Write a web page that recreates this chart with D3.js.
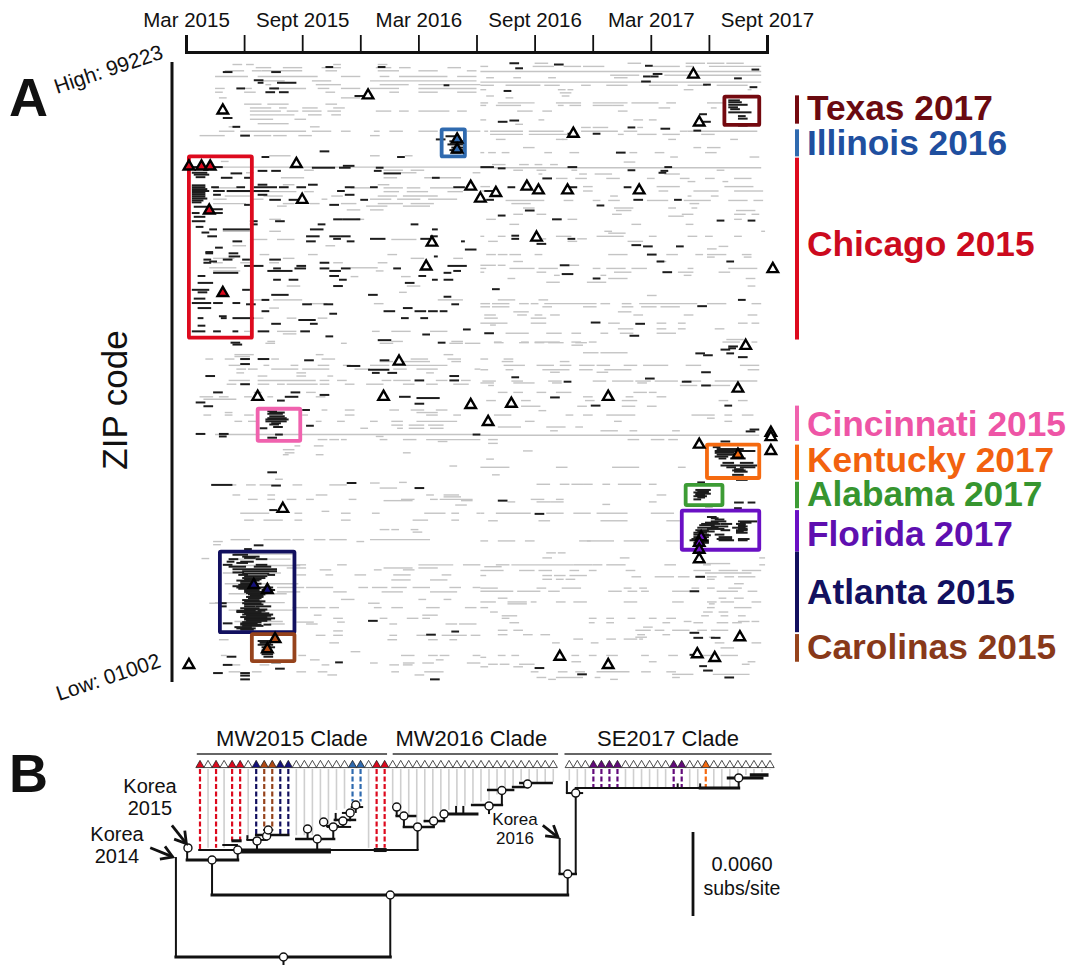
<!DOCTYPE html>
<html><head><meta charset="utf-8"><title>ZIP code and phylogeny</title>
<script src="https://cdn.jsdelivr.net/npm/d3@7"></script>
<style>html,body{margin:0;background:#fff}svg{display:block}text{font-family:"Liberation Sans",Arial,sans-serif;fill:#111}</style>
</head><body><svg id="c" width="1070" height="965"></svg>
<script>
// Panel A: values in months since Mar 2015, ZIP code in thousands. Rows: [zip, start, end, start, end, ...]
const axisMonths=[0,3,6,9,12,15,18,21,24,27,30];
const axisLabels={0:"Mar 2015",6:"Sept 2015",12:"Mar 2016",18:"Sept 2016",24:"Mar 2017",30:"Sept 2017"};

const grayTopLeft=[
[98.8,2.4,2.9,3.1,3.5,7.6,8,9.9,10.4],[98.3,3.6,4.4,5,6,7,8,9.8,10.6,11,11.6,13.5,14.2],[97.8,2,3,3.4,3.9,3.9,6,7.2,7.8,9.9,11,12,13,14.5,15],
[96.9,1.5,3.2,3.7,6.8,8,9,10,10.5,11,13.5,14,15],[96.2,3.9,5.1,6.5,7.5,9.5,15],[95.6,4.1,4.4,6.7,8,10,11.5,12,15.2],[95,1.5,2,3,3.4,4.5,6.2,6.8,7.4,8,9,9.5,11,12,15],
[94.4,1.5,1.9,3,3.6,7.2,7.7,10.5,11,12,13,14,15],[93.5,1.7,2.1,8,9],[92.5,3,3.9,4.2,5.3,7.2,7.8],[91.9,3.3,4.4,4.8,5.2,6,6.8,7.6,8.2],
[91.4,3.3,4.9,5.2,5.8,6,7,7.3,8,9.8,10.6,11,11.5,12,13.6,14,14.5],[90.8,3.3,5.6,6.3,7,7.5,8],[90.1,3.3,4.5,5.6,6.2],[89.4,3.7,5.3],[88.9,2.2,2.6,6.4,6.9],
[88.2,1.7,2.5,2.8,6.2,6.5,7.5,8,8.5,9.7,10,10.5,11.2,12,13,14.5,15.2],[87.5,.7,2,3.5,4.4,4.5,5.2,5.8,6.5,9.5,10],
[84.3,4.3,5.4,9.5,10,11.3,11.7],[83.4,1.8,2.2],[82.5,.3,15.2],[82,6.1,6.6,10.2,11.2,11.6,12.3],[81.6,3.1,3.5,11.1,11.9,14.8,15.2],[80.8,4.9,6.1,10.2,10.9,12.3,14.2],
[79.7,5,5.6,9.9,10.5],[79.2,1.4,2.6,8.5,9.5,10.2,11.2,11.4,12.1,12.6,13.8],[78.6,2.1,5.7,6.1,6.6,10.2,11,11.4,12.5,13.5,14.3],[77.9,2,3.3,4,5,7.5,8.1,9.9,10.9,11.2,13],
[77.4,1.4,2.1,3.3,4,7,7.3,9.5,10.6,10.9,12.1,12.5,14],[76.7,1.4,3.1,5,5.6,6.4,6.9,8,8.8,9.9,11.2,11.6,12.8],[76.3,4.7,5.2,9.3,10.4,11.2,12.6],[75.7,8.3,9,9.5,10.2],
[74.2,4.3,4.9,8.8,9.2],[72.3,1.9,3.3,4.3,4.9],[71,3.3,4.2,4.7,5.6,10.6,11.9],[70,2.4,3.1,7.2,7.7],[68.6,3.8,4.3,6.3,6.8,10.4,10.9],[68,1.4,2.5,5,5.6,11.6,12.3,13.8,14.3],
[67.3,1.4,1.9,2.8,3.3,4.3,4.8,7.6,8.1,9.9,10.4],[66.5,1.2,2.6,8.5,9.9],[66,1.4,2.8,9.8,10.2],[65.1,8.5,8.9,11.1,11.6],[63.6,5.2,5.9,11.4,12.1],[62.6,11,11.4],
[61.4,3.5,4.3,4.5,6,13,14.3],[60.8,6.4,7.3,9.7,10.2],[60.1,4.3,4.8],[58.5,3.3,4,5.2,5.7,6.8,7.3],[56.4,3,3.3,4.7,5.7,9.6,10,10.6,11.6,12.6,13.5],[56,5,5.7],[54.8,4.2,4.6,10.6,11.2,13.7,14.3]
];
const grayTopRight=[
[99,18,18.7,22.8,23.5,25.8,26.8,26.9,27.8,27.9,28.8],[98.5,15.2,15.6,17.9,19,19.5,20.4,20.5,21.6,24.1,25.5,25.8,26.2,27,29.7],[97.7,15.2,29.7],[97.1,21.9,23.4,24.7,26,26.2,29.7],
[96.7,15.5,15.9,16.9,17.3,18.7,19.1,22.1,22.8],[96,15.2,29.7],[95.5,15.2,15.9,16.5,18.3,18.5,19.3,20.4,20.9,21.7,22.8,23.9,25.4,25.9,26.9,27.4,29],[94.8,15.2,15.5,19.2,19.6,19.7,20,25.7,26.2,29,29.2],
[94.3,19.3,19.9],[93.8,15.5,15.9,19.4,19.8],[93.5,16.5,16.9],[92.7,15.2,15.6,16.1,18,19.1,20.4,21,22.8,23,24.4,24.8,25.3,26.9,27.8],[92.3,15.2,15.5,16,17.3,19.2,19.5,19.8,20.4,21,22,22,22.6],
[91.9,24.4,25,27.1,27.4],[91.4,17.1,17.9,18.4,18.9,22.3,22.8],[90,15.2,15.5,18.2,18.5,23.1,23.6,23.9,24.3],[89.3,17,17.4],[88.8,20.4,20.9,21,21.8,23.3,23.6],
[88.2,15.4,15.6,15.7,17.4,17.7,19.5,20.4,22.3,22.6,23.3,25.5,25.9,25.9,29.5],[87.7,15.7,17.4,17.7,19.7,22.3,22.6,23.3,24.3,24.6,25.5,26.6,27.3],[86.9,16,16.5,19.1,19.5,19.4,19.7,24.9,25.3,28.1,28.5],
[85.6,17.4,18,26.2,26.6,26.9,27.6],[84.8,15.2,15.4,15.6,16,16.3,16.7,18.5,18.9,19.8,20.3,22.9,23.3,24.2,24.7,26.8,27.4],[84.1,25,25.4,29.1,29.6],[83.3,22.6,23.2],[82.9,15.8,16.5,17.2,17.7,18,18.4,18.8,19.2],
[82.4,15.2,29.7],[82,16.9,17.4,18.1,18.6,19.9,20.2,27.4,27.8],[81.4,18.2,18.4,20.3,20.7,21.1,22,24.7,25.5],[80.7,19.1,19.7,20.1,20.7,21.7,22.4,23.8,24.2,25.5,26,26.8,27.3,28.3,29.2],[80.2,25.9,26.3,27.7,28],
[79.4,15.2,15.7,20.5,21,24.3,25.5,27.8,29.3],[78.7,15.2,15.7,20.5,21,24.4,24.9,26.2,27.5,28.3,29.8],[77.9,21.9,22.3,25.9,26.1,27.1,27.5],[77.2,16.5,17.4,17.4,18.5,19.5,20,21,21.4,21.8,22.4,23.8,24.9,25.7,27.1,28,29,29.3,29.8],
[76.7,16.8,17.8,26,26.5],[76,17.4,18,22.1,23.1,24.9,25.3,26.1,26.4],[75.6,22.2,23,28.4,29.4],[75,16.9,17.4,18.1,18.6,22,22.5,25.6,26.2,28.3,28.9,29.2,29.6],[74.7,24.9,25.7],[74.2,15.5,16,19.7,20.2,28.3,28.7],
[73.4,16.7,17.2,23,23.5,25.8,26.2],[72.3,21.6,22,29.7,29.9],[72,21.8,22.7],[71.5,15.2,15.4,16.1,16.5,19.1,19.9,21.2,22.6,23.9,24.3,25.9,26.4,26.8,27.2,28.3,28.7],[71.1,18.4,18.6,20.2,20.7],
[70.7,15.6,16.1,18,18.2,19.7,20.2,22.8,23.6],[69.9,27.5,28],[69.5,26.9,27.4],[68.6,15.5,16,16.1,16.6,16.7,17.3,18,18.4,21.8,22.8,24.8,25.4,26.3,26.7,26.9,27.9,28.7,29.2],[68.2,26.9,27.3,28.8,29.2],
[67.5,16.9,17.4,24.3,24.8],[66.9,15.2,16,16.1,16.5,19.8,20.3],[66.4,15.2,15.5,16.7,18,18.2,19.2,21,21.4,21.7,22.7,23,23.8,25.9,26.2,28,29.5],[65.8,15.2,15.4,18.1,18.6,22.1,23,25.4,26.2,27.5,28.1],
[65.3,19,19.3,21.4,21.7,25.7,26.1],[64.8,16.6,17,21.8,22.8,28.9,29.4],[64.2,18.6,19.3,20.7,21.7],[63.6,29,29.4],[62.1,23.8,24.3],[61.4,16.1,17,18.2,18.7],
[60.8,15.2,15.7,15.8,16.7,17.2,17.7,17.8,18.2,18.5,21.2,21.4,21.9,22.5,23,23.4,26.4,26.9,27.9,29.2,29.7],[60.3,15.2,15.7,15.8,16.7,18.4,18.9,20.5,21.2,22.5,23.1,23.5,24.3,24.5,25.5],
[59.5,16.9,17.7,22.3,23],[59,15.4,16,17.1,17.6,18,18.4,18.8,19.3,23.1,23.6,25.7,26.2,29,29.5],[58.5,15.4,16.1,17.8,18.6],[57.7,15.2,16.6,17.8,18.6,21.8,22.4,24.3,24.8,25.4,25.8,28.5,29,29.2,29.6],[57.4,15.7,16],
[56.8,22.3,23.1,24.3,24.8,25.4,25.8,27.3,27.8],[56.1,16.5,17.7,18.6,19.4,19.9,20.4,21.4,21.8,22.4,23.1,24.3,25.3],[55.1,27.9,28.8],[54.7,15.9,16.3,17.3,17.7,18,19.3,19.9,20.4,20.8,21.2,27.7,28.6,29.2,29.5]
];
const grayMidLeft=[
[54.5,4.1,4.6,8,8.3,10,10.7,13.6,14.3,14.4,15.2],[52.7,2.5,3.5,6.7,7.1,13.3,13.8],[52.4,2.5,3.3],[52,1,1.4,2,2.5,2.8,3.3,4.4,4.8,7,7.7,11.6,12.5,13.5,14.2],[51.6,10,10.7,11.2,12.6,13.7,14.2],
[51,2.2,2.8,4,4.3,5.4,5.8,6.8,7.4,8.1,8.5,9.5,10.5,11.3,13.5],[50.4,2.6,3.1,3.2,3.7,4.4,5.8,6,7.4,8.7,9.5,10.7,11.4,11.9,13,14.9,15.2],[49.8,2.6,3,5.7,6.2,12.4,12.8],[49.3,3.7,4.2,5.7,6.2,7.3,7.6],
[48.6,2.2,3.3,3.7,6.7,6.9,7.4,7.8,8.3,10.1,10.6,10.7,11.6,12.9,13.5,14.2,14.7],[48,2.1,2.6,3.7,4.3,4.7,5.1,5.2,6.8,6.9,7.4,8.2,8.7,9.3,10.2,11.2,11.8,12.4,13,13.8,14.6],[46.7,3.5,3.9,6.2,6.7],
[46,.7,1.4,1.7,2.2,3,3.4,4.2,4.5,6.7,7.2],[45.6,.9,2.6],[43.9,7,7.3,8.2,8.7,10.5,11,11.6,12.3,12.9,13.5],[43.5,2,2.4,11.9,13],[43.1,.9,1.3,2,2.4,3,3.5,6,6.3,8.2,8.7,12.4,13,13.8,14.2],
[42.1,2.5,2.9,3.2,3.7,6.7,7,7.8,8.2,9.5,9.9,10.6,11.2,11.9,14],[41.5,10.6,11.2,11.5,12.3,12.5,13.3],[41,9,9.4,10.9,11.2,11.5,12.3,12.6,13.3],[40,1.5,15.2],[39.7,9.8,10.2],
[39.2,6.8,7.3,7.4,7.9,8,8.3,10,10.4,11.2,11.9,12.4,15.2],[38.9,13,13.5],[38.2,5.6,5.9,6.6,7.1],[37.6,5,5.6],[37.1,5.1,5.6,11.2,11.6],[36.8,5,5.3,6.7,7.1],[35,13.6,14],[32.9,4.6,5],[32.4,11,11.4],
[32.3,9.5,10],[32,2.4,2.6,3.1,3.6,3.8,4.4,5.5,6,7.4,8.3],[31.5,10,10.9],[30.4,2.4,2.8,4.2,4.6,6.7,7.3,12.4,12.8,13.3,14.1],[30.1,13.3,14.2],[29.7,3.2,3.7,4.2,4.6,5.2,5.7,6.2,6.6,8.4,8.8,11.1,11.8,12.6,13,13.1,14.8],
[29.5,10.2,11.7,14.2,14.8],[28.8,13.9,14.5],[27.8,7,7.4],[27.5,2.8,4.3,5.6,6,8,8.5,9.6,10,12.3,13.4,13.7,14.1,15,15.2],[26.4,3,3.5,4,5,5.6,6,8,8.5,11.7,12.5,13.7,14.1],
[24.9,10,10.5,10.6,11,11.6,12],[24.5,11.7,12.2],[23.3,2.3,3.3,4,5.4,5.5,6.1,6.6,7.2,7.4,8.3,9.5,12.6],[23,1.4,1.9,8.8,9.2],[22.5,1.4,1.8],[20.3,.8,1.2],
[19.3,5.7,6.2,7.8,8.3,12,13.8,14.3,15.2],[18.8,5.2,6.2,10.2,11.7,12,13],[18.5,6.9,7.5,9.7,10.1,11.2,11.8],[17.7,5.7,6.2,7.2,7.6,8.7,9.3,10.7,11.6,13.2,13.7],[16.9,10.6,11.6,12.6,13.5],
[15.7,4.7,6.1,6.2,7.6,8.9,9.4,9.6,10.4,10.6,11.4,11.7,12.6,13.6,14.2,14.8,15.2],[15,4.7,5.9,7.6,8.3,10.1,11.2,12.6,14],[13.8,8,8.7,12,12.4,13.3,13.7],[13.2,1.2,1.7,9.4,10],
[12.5,5.5,6.3,6.4,7.2,7.4,7.9,9.7,10.1,10.6,11.2,12.4,13.1,14.4,15],[11.3,6.6,7,12.2,13],[10.8,7.6,8.1,10,10.4,11.4,12,12.2,12.6],[10.2,5.7,6.6,7.8,8.2],[9.9,4.3,5.1,6.2,6.8,10.5,10.9,13.4,14,14.1,15],
[8.8,7.6,8.1],[8.1,6.7,7.2,7.6,8.1,10.5,10.9,11.9,12.4,13.2,14.5,14.7,15.2],[7.4,1.7,2.2,10.4,10.9,12.5,13,13.6,14],[6.9,7.4,7.9],[5.5,8.5,9],[4.9,1.8,2.1,5.8,6.2,11.1,11.8,12.5,13,13.1,13.6,14.8,15.2],
[4.2,6.4,6.9,12.9,13.3],[3.7,9.5,9.9,11.2,11.8,12.2,12.8,14.5,15.2],[3.4,2.4,2.8,3.8,4.3,7,7.4,10.5,11,11.2,11.7],[2.3,2.2,2.8,3.4,3.9,5.7,6.2,6.8,7.3,10.6,11,12.3,13.3],[1.8,7.3,7.8,11.8,12.3]
];
const grayMidRight=[
[54.6,15.9,16.4,17.2,17.7,18,18.5,18.7,19.5,20.1,20.7],[54.2,19.9,20.5],[53,20.5,21.3,21.4,22.8],[52,15.2,15.6,16.4,16.9],[51.6,16.3,16.9,19.3,19.8],
[51,16.4,17.5,18.1,19,19.3,19.9,20.3,21.1,21.2,21.9,22.6,23.3,23.6,24.9,25.8,26.6,28.6,29.6],[50.3,15.2,15.6,16.5,16.9,18.4,19.8,20.3,21,21.6,23,29,29.6],[49.9,18.8,19.3,21.2,21.8],
[48.5,15.3,16,16.8,17.4,18.7,19.4,21,21.7,22,23.1,23.2,24,24.2,25.4,25.7,26.6,27.3,29.5],[48.2,15.2,15.9,16.9,18,18.9,19.4,23.3,23.8],[47.8,15.6,15.9,25.5,26.4,27.1,28.1],
[46.7,16.1,16.6,16.9,17.4,18.1,18.6,19.1,19.9,23.1,23.8,23.9,24.3],[46,20.5,21,22.7,23.1,24.3,24.8],[45.4,15.5,16,17.3,17.8,20.6,21.1,22.5,23.3,27.5,28,28.5,29],
[44.5,17.3,18.3,20.2,20.7,22.5,23.2,23.8,24.3],[43.8,18.2,18.6],[43.1,15.9,16.8,19.6,20,20.5,21,21.7,23.2,26.1,27.3,27.8,28.2,28.7,29.3],[42.6,26.9,27.3],[42.1,17.5,18,22.1,22.5,27.8,28.2],
[41.2,16.1,17.3,18.6,19.6,20.1,20.5],[40.6,18.8,19.2,21.4,22.3,22.9,23.3,25.1,25.5],[39.9,15.2,29.6],[39.2,15.6,16.1,22.8,23.4,24,24.7,24.9,25.4],[38.6,15.6,16.1],[37.4,17.4,17.9],[36.1,15.5,15.9],
[34.8,15.2,16.7,19.1,19.7,22,23.4,25.4,25.8],[33.6,15.8,16.2],[32.1,18.1,18.8,19.3,19.8,19.9,20.5,20.5,21,21.5,21.9,22.3,23.5,23.9,24.3],[30.4,24.3,24.8],[29.7,17.8,18.5,19.1,19.5],
[29.3,16.6,17,18.1,18.8,18.8,19.5,23.9,24.3],[28.9,21.5,21.9],[27.5,15.2,15.4,16,17.8,18.6,19.5,20,20.9,21.2,22.8,24,25.2],[26.3,15.6,16.1,18.2,18.8,21.4,22.8,24.8,25.5],
[23.1,15.2,15.6,16.1,17,17.5,18,20.3,20.9,20.7,22.1,22.6,23.9,24.8,25.5],[21.2,18.6,19.1,19.2,19.6],[20.4,18.4,18.9,22.4,22.9,29.6,29.9],[19.5,26.9,28.1],[19.3,16,16.7,16.8,20,20,21,21,21.5,21.7,22.7,24.7,25.3,26.7,27.1,29.6,29.9],
[19,15.4,16.3],[18.4,15.2,16.4,17.2,18,18.2,18.9,19.8,20.3,20.8,21.2,22.7,23.2,26.2,27.1,27.5,28.5,28.7,29.7],[18,26.8,29.2],[17.6,15.2,15.5,18.4,18.9,19,19.6,19.8,20.7],[17.4,23,23.5,24.2,25.2,25.4,26,26.9,27.4,27.8,28.3,28.5,29.4],
[17,18.4,18.9,19.1,19.5,19.6,20.1,26.9,27.3],[16.3,28.3,28.8],[15.6,15.2,16.1,18.1,18.6,19.4,20.4,22.6,23,23.4,23.8,26.1,26.5,26.9,27.3,28,28.7],[15.1,15.2,16.9,17.1,18.3,18.7,19.3,21.8,22.5,22.8,23.3,23.5,23.9,25.1,26,27.4,28.5,29,29.5],
[14,16.1,16.6,27.5,27.9,28.3,28.8],[13.4,15.2,16,16.6,17.6,17.8,18.1,19.1,19.6,20,20.7,22.6,23.3,25.1,25.7,26.9,27.4,27.6,28.3,29.2,29.7],[13.1,16.6,17.6,27,27.3],[12.5,15.2,15.6,26.9,27.3,28.3,29.2],
[11.8,15.7,16.1,26.7,27.2,27.5,28],[11.2,16.3,17.1,26.6,27,27.6,28,28.5,28.9],[10.8,16.3,16.7,20.8,21.2,21.7,22.1,22.8,23.2,23.9,24.3,24.8,25.3],[10.3,25.7,26.1,28.5,29.1,29.2,29.6],[10.1,16.7,17.2,20.8,21.1,21.7,22.1,24.6,25,26.2,26.7,27.4,28,28.2,28.7],
[9.4,23.6,24.1],[8.9,16.1,16.6,16.9,17.4,23.2,24,24.2,24.7,25.1,26,26.4,26.9,27.1,28],[8.2,16.1,16.6,17.4,17.9,18.3,18.8,23.3,23.7,24.6,25],[7.8,23.2,23.8,27,27.3],[7.5,20,20.5,21.7,22.2,22.6,23.3,23.4,23.6],
[6.9,18.9,19.3,20.9,21.3,27.3,27.8,29.2,29.7],[6.1,27.6,28.3],[4.9,16.1,16.5,16.8,17.2,19.9,20.3,20.8,21.2,21.7,22.3,23.5,23.9,24.9,25.4,26.6,27.3,27.6,28.5],[4.6,15.2,15.5],[3.9,19.9,20.4,23.9,24.3,29,29.4],
[3.5,15.6,16.1,16.2,16.7,17.2,18,28.7,29.1],[3.1,15.2,15.6,16.9,17.4],[2.3,17.8,18.2,19.2,19.7,20.1,20.6,21.2,22.9,23.5,24,24.8,25.3],[1.9,25.1,26.2,27.2,29.1],[1.4,18.1,18.6,19.1,20.5,21.1,21.4,25.1,25.5],[1.1,18.7,19.1,21.9,22.3],
[21,2.5,5.6],[20.2,2.3,5.4],[19.2,2.2,5.9],[18,1.9,4.9],[16.3,2,5.8],[14.7,2.2,5.2],[13.3,1.5,5.1],[12.1,2.2,5.5],[10.3,2.5,5]
];
const blackTop=[
[98.4,7.2,7.6,9.9,10.3],[97.6,1.9,2.4,4.4,4.9],[96.3,3.5,4],[95.9,3.7,4,4.7,5.7],[95.5,13.3,13.6],[95,2.6,3.05,4.3,4.8],[94.4,4.1,4.6,4.8,5.3],[93.8,8.7,9.2],[90.3,1.9,2.4],[88.9,2.4,2.8],[87.5,2.8,3.3],[86.9,12.9,13.4],
[85,6.9,7.4],[84.1,3.9,4.3,10.9,11.3],[82.7,8.1,8.7],[82.5,.3,1.9],[82.4,6.5,7.7,7.9,8.5,9.8,10.2],[81.9,3.7,4.2,4.4,4.9,9.7,10.1],[81.5,2.3,2.9,10.2,11.1],[80.8,1.8,2.4,3,3.4,12.7,13.1],[79.7,3.7,4.2,6.3,6.8],
[79.3,1.3,1.7,2.6,3.05,3.5,4.7,4.8,5.3,5.7,6.2,8.2,8.7,9.5,9.9,13.8,14.4],[78.7,1.4,2,2.1,3.5,3.5,4.3,7.8,8.2],[78.1,1.4,1.8,3.7,4.2,8.2,8.7],[77.3,4.3,4.9,5.3,5.8,9,9.4],[76.5,3,3.3,7.4,7.9],[75.2,.3,.7,1.4,1.9],
[74.2,7.6,8.1,8.1,9],[73.9,.3,1,3.3,3.7,4.6,5.1],[73.4,3.3,3.7,6.8,7.2,11.6,12],[72.6,1.2,1.6,1.9,3.3,6.4,7.1,12.7,13],[71.5,1.1,1.6,6.2,6.9,7.4,8,8,8.5,12.6,13],[71.1,7.6,8,9.5,10.3,12.1,12.8],[70.7,6.2,6.7,8.3,8.7,2.4,2.9,14.2,14.4],
[69.7,1.5,1.9],[69.4,14.4,15],[68.8,1,1.4,2.2,2.7],[68.3,2.2,2.8,12.8,13],[67.8,.9,1.3,1.9,2.4,2.9,3.3,4.3,4.9],[67.3,.9,1.3,6.9,7.4],[66.8,3,4,5.7,6.2,13.5,14.5],[66.4,4.5,4.9,5.6,6.2,6.9,7.4,8,8.5,10.7,11.1],
[66,4.2,5.5,7.4,8,13.8,14.2],[65.7,1.4,2.7,13.3,13.7],[65.2,.6,1,7.4,7.9,12,12.4],[64.6,4.5,4.9,5.3,5.8,7.9,8.3,12.7,13,13.3,13.8],[64.1,.6,1.4,11.3,11.8],[63.6,7.6,8.1],[63,.3,1.2,2.9,3.3],[62.2,9.4,9.9,4.4,5.3],[61.9,13.3,13.7],
[61.4,3.9,4.3],[60.9,.3,1.3,1.4,1.9,2.4,2.8],[60.7,3.1,3.6,6,6.5,7.1,7.6,13.7,14.1],[60.1,.6,1.3,11.2,11.7],[59.6,3.9,4.3,10.2,10.8,11.8,12.4,12.5,13,13.1,13.5],[59.2,7.4,7.8],[58.8,1.7,2.1],[58.5,.6,.9,1.8,2.1,2.4,3.5,11.1,11.5,12.1,12.5],
[58.2,5.8,6.7],[57.6,4.4,4.9,6.4,6.8],[57.3,.6,1],[56.7,14.3,14.7],[56.4,.3,1,1.4,1.8,2.4,2.7,3.7,4.3,5.9,6.4],[55.9,12.2,12.6],[55.6,7.2,7.6],[55,9.9,10.6],[54.6,2.3,2.8,13,13.4],
[79.6,.3,1],[79.3,.3,1],[79,.3,1.1],[78.7,.3,1.2],[78.4,.3,1],[78.1,.3,1],[77.8,.3,1],[77.5,.3,1.1],[77.2,.3,.9],[76.9,.3,.8],[81.6,.3,1.1],[81.3,.4,1.2],[80.9,.5,1],
[76.2,.4,1.1],[75.8,1.3,1.9],[74.6,.4,1],[73,.5,.9],[72.1,.8,1.2],[69,1,1.4],[67.5,1.2,1.6],[62.6,.6,1.1],[61.6,.4,1]
];
const blackRight=[
[99,16.7,17.2],[98.8,19,19.5],[98.6,23.7,24.1],[98.2,17,17.4],[98,29.2,29.6],[97.3,24.1,24.6],[96.9,23.6,24,24,24.4],[96.6,28.3,28.7],[96.1,23.5,24],[95.6,26.7,27.1],[95.2,29.1,29.5],[94.6,16.4,16.8],[90.9,26.5,26.9],[89.9,16.7,17.2],[89.7,16.1,16.6,26.6,27.1],
[89.1,28.5,29],[88.8,22.8,23.2],[88.6,24.5,25],[88.3,26.2,26.6],[87.8,21,21.4,19.7,19.9],[84.8,22.2,22.7],[82.5,15.2,15.9,19.7,20.2,24.7,25.1],[82.3,16.1,16.5],[82,22.8,23.2],[81.9,24.5,24.9],[81.6,24.4,24.8],[80.7,18.4,18.9],[79.3,16.6,17,19.8,20.2,22.6,23],
[78.7,15.4,15.9],[77.3,25.2,25.6,23.1,23.6,15.5,15.9],[76.4,21.2,21.6],[75.6,17.5,18],[74.8,16.1,16.5],[74.2,18.9,19.4],[74,27.4,27.8,29,29.4],[71.6,16.8,17.2],[71.1,16.8,17.2,19.7,20.1],[70.3,18.1,18.6],[70.1,23,23.5],[69.9,23.6,24.1,25.3,25.7],[68.6,23.8,24.3],[67.5,24.3,24.7,27.9,28.3],
[66.9,19.3,19.8],[65.8,24.6,25.1],[65.5,19.4,20],[64.8,21,21.4],[63.1,15.8,16.2],[61.4,28.5,28.9],[60.4,26.4,26.9],[57.8,20.9,21.4],[57.6,23.2,23.7],[56.1,15.4,15.9],[55.7,22.9,23.4],
[54,28,28.5],[53.7,28,28.4],[53.5,27.6,28.1],[52.9,26.3,26.8,27.9,28.3],[52.6,26.7,27.2],[52.3,28.5,29],[49.9,26.6,27.1],[49.1,16.8,17.2],[48.9,23.7,24.2],[48.4,19.5,19.9,25.6,26.1],[47.8,26.6,27.1],[45.9,18.8,19.3],[44.6,20.9,21.4,27.8,28.2],[40.8,29.1,29.6],[40.5,28.9,29.4],
[38.9,27.6,28.1],[32.8,28.4,29],[32.4,26.4,26.8],[29.5,16.1,16.6],[29.2,28.3,28.8,29,29.4],[28.6,26.8,27.2],[28.3,28.3,28.7],[27.4,18,18.5],
[17.4,26.3,26.8],[15.1,26,26.5],[8.5,26,26.5],[7.7,26.2,26.7,27.1,27.6],[5,26,26.4],[3.2,26.5,26.9],[2.9,18,18.5],[2.5,26.7,27.2],[1.9,20.2,20.7],[1.4,27.8,28.3]
];
const blackMidLeft=[
[54.3,2.4,2.9],[52,2.8,3.3,3.7,4.3],[51.8,6.1,6.6,10,10.5],[51.2,2.8,3.3],[50.9,8.3,9],[50.3,9.4,10.5],[49.8,9.6,10,10.4,10.9],[49.3,1,1.5,13.6,14.1],[48.6,11.8,12.3,13.6,14.1],[48,2.8,3.3],[46.7,1.4,1.9,5.4,5.9],[46.3,6.9,7.4],[46,5.1,5.8,11,11.6],[45.8,11.9,13.1],[45.4,4.7,5.1],[45.1,.5,1],[44.9,11.8,12.3],[44.5,.9,1.4],[43.9,6,6.4],[41.4,6.2,6.6],[40.1,.5,1,1.7,2.2],[40,14.8,15.2],[39.7,1.7,2.1],[34,4.2,4.7],[32.3,8.3,8.8],[32,1.3,2.4],[31.9,4.4,4.9],[31.5,11.8,12.3],[28,4.3,4.7],
[43.7,4.2,4.7],[43.5,4.3,5.1],[43.3,4.2,5],[42.9,4.3,5.1],[42.6,4.2,5.2],[42.4,4.1,5.3],[42.1,4.1,5.2],[41.8,4.4,4.9],[41.6,4.3,4.8],[41.2,4.5,5],[41,3.8,4.2],[40,4.6,5],[39.5,4.2,4.7],
[22.4,3.5,4],[21.8,3,3.4],[20.6,2.9,3.8],[20.2,2.2,2.7,3.6,4.2],[19.8,2.1,2.5,2.8,3.5],[19.3,1.9,2.4,3.6,4.2],[18.6,2.4,4.7],[18.3,2.9,4.7],[17.9,2.9,4.3],[17.5,3,4.2],[17,3,3.9],[16.6,2.8,3.6],[16.1,2.7,3.6],[15.7,2.6,3.5,3.8,4.5],[15.3,3,3.8,3.9,4.6],[14.8,3.1,4.2],[14.4,3.3,4],[14,3.2,3.9],[13.5,3,4.1],[13.2,1.8,2.1,2.9,3.9],[12.7,1.8,2.1,3,3.6,3.6,4.4],[12.4,2.8,3.8],[12,2.6,3.6,3.7,4.1],[11.6,3,4.3],[11.2,3.1,4.4],[10.8,3,4.6],[10.4,3.1,4.2,9.4,9.9],[10,1.9,2.4,2.8,3.7],[9.6,2.9,4],[9.2,2.6,3.6],
[20.9,2.4,3.2],[20.4,3,3.6],[19.6,2.6,3.2],[19,2.2,3.1,3.5,4.4],[18.1,2.4,3],[17.7,2.7,3.2,4.2,4.6],[17.2,2.9,4.1],[16.8,2.6,3.8],[16.3,2.8,3.9],[15.9,2.4,3.3],[15.5,2.7,3.4],[15,3,4.4],[14.6,3.2,4.1],[14.2,3.1,4],[13.7,2.9,3.8],[13,3,4],[12.2,3,4.2],[11.8,2.6,3.9],[11.4,2.9,4.5],[11,2.8,4.2],[10.6,3,4.4],[10.2,2.9,3.9],[9.8,2.8,3.9,4,4.4],[9.4,2.5,3.4],[9,2.8,3.5],
[7.2,3.7,4.4],[6.9,3.8,4.4],[6.6,3.7,4.5],[6.2,3.9,4.6],[5.7,3.9,4.3],[5.1,3.9,4.5],[4.7,2.1,2.6,4,4.5],[8.2,12.4,12.9],[8.7,13.7,14.1],[3.8,7.7,8.1,4.4,4.9],[3.4,1.9,2.4],[2.8,4.6,5.1],[2.1,1.4,1.9,2.8,3.3],[1.7,2.8,3.3],[1.1,2.8,3.3,12.6,13.1]
];
const blackClusters=[
[93.1,28,28.6],[92.8,28,28.7],[92.4,28,29],[92,28,28.5],[91.7,28.1,28.6],[91.2,28,29.2],[90.6,28.5,28.9],[90.2,28.5,29],
[86.6,13.6,14.4],[86.1,13.5,14.3],[85.6,13.7,14.4],[85.2,13.6,14.3],[87.4,13.4,14],[84.8,13.7,14.2],
[38,27.2,27.6],[37.7,27.4,28.8],[37.4,27.3,29.4],[37.1,27.3,28.3],[36.8,27.4,28.4],[36.5,27.3,28],[36.2,27.5,27.9,28.1,28.9],[35.5,27.7,28.3,28.6,29.3],[35.1,27.6,29.5],[34.8,27.9,28.4,28.6,29.4],[34.5,28.3,28.8],[34.3,28.2,28.9],[34.1,28.3,29],[33.6,28.2,28.8],
[31.2,26.3,27.1],[31,26.4,27],[30.8,26.2,27],[30.6,26.3,27.1],[30.4,26.3,26.8],[30.2,26.2,26.9],[30,26.4,26.8],[29.7,26.2,26.6],
[26.9,26.9,27.4],[26.7,27.1,27.5],[26.5,27.3,27.8],[26.2,27.1,27.9,28.5,29.5],[26,26.8,27.5,28.6,29.2],[25.8,26.6,27.6,27.6,28.2,28.4,28.9],[25.6,26.5,27.3,28.5,28.9],[25.4,27.1,28,28.5,29],[25.2,26.4,27.5,28.2,28.9],[25,26.9,27.8,28.5,29],[24.8,26.3,27,27.6,28.1,28.4,29],[24.6,26.4,27.3,28.4,28.8],[24.4,26.2,26.9,28.4,29],[24.1,26.2,27,27.3,27.8],
[24,26.5,27.1],[23.7,26.2,27,27.5,28.2],[23.4,26.1,26.9,27.4,28.2,28.5,29.1],[23.2,26,27,27.5,28.3,28.5,29],[23,26.3,27],[22.8,26.2,27]
];
// Triangles: [months, ZIP thousands, group]
const triangles=[[26.2,97.2,""],[9.4,93.9,""],[1.9,91.5,""],[26.5,89.6,""],[20,87.8,""],[14,86.9,"Illinois"],[14,85.3,"Illinois"],[.15,82.6,"Chicago"],[.8,82.6,"Chicago"],[1.25,82.6,"Chicago"],[5.7,83,""],[6,77.3,""],[1.2,75.6,"Chicago"],[1.9,62.5,"Chicago"],
[14.7,79.4,""],[15.2,77.5,""],[16,78.4,""],[17.6,79.4,""],[18.2,78.8,""],[19.7,78.8,""],[23.4,78.8,""],[18.1,71.3,""],[30.3,66.3,""],[12.7,70.5,""],[12.4,66.7,""],[28.9,54.1,""],[11,51.6,""],[3.7,46,""],[10.2,46,""],[14.7,44.7,""],[16.8,44.9,""],[15.6,42,""],[21.8,46,""],[28.5,47.3,""],[26.5,38.4,""],
[30.2,40.3,""],[30.2,39.6,""],[30.2,37.4,""],[28.5,36.8,"Kentucky"],[5,28.2,""],[26.6,23.7,"Florida"],[26.5,22.8,"Florida"],[26.5,21.7,"Florida"],[26.5,20.2,""],[3.5,16.1,"Atlanta"],[4.2,15.3,"Atlanta"],[4.6,7.5,"Carolinas"],[4.2,5.9,"Carolinas"],[.15,3.4,""],[28.6,7.8,""],[19.3,4.7,""],[21.8,3.4,""],[26.4,5.1,""],[27.3,4.5,""]];
// Regions: name, label, stroke colour, text colour, box [m0,m1,z0,z1], bar [z0,z1], label ZIP position
const regions=[
["Texas","Texas 2017","#74090f","#6a0a10",[27.8,29.6,89.2,93.7],[89.4,93.9],90],
["Illinois","Illinois 2016","#2f6aaf","#1f4f9f",[13.2,14.4,84.2,88.5],[84.2,88.5],84.5],
["Chicago","Chicago 2015","#dd0a1e","#cc0a1e",[.15,3.4,55.4,84.2],[55.1,84],68.4],
["Cincinnati","Cincinnati 2015","#f062ae","#ee55a6",[3.7,5.9,39,44.1],[39,44.6],39.8],
["Kentucky","Kentucky 2017","#f56a10","#f2620f",[26.9,29.6,33.1,38.4],[32.8,38.4],34.1],
["Alabama","Alabama 2017","#3d9c35","#36952f",[25.8,27.7,28.8,32],[28.3,32.5],28.7],
["Florida","Florida 2017","#6a10c4","#5e0fb0",[25.6,29.6,21.7,27.9],[21.4,28],22.3],
["Atlanta","Atlanta 2015","#12105f","#12105f",[1.75,5.6,8.6,21.4],[8.6,21.4],13.1],
["Carolinas","Carolinas 2015","#96431c","#88391a",[3.4,5.6,4,8.3],[3.9,8.3],4.3]];

// Panel B: slot = tip position, div = divergence in 1e-4 subs/site
const cladeNames=["MW2015 Clade","MW2016 Clade","SE2017 Clade"];
const cladeSlots=[[-.4,23.3],[24,44.6],[45.4,71.2]];
const tipDivMW2015=[77,78,78,78,83,83,85,87,91,91,87,87,87,87,87,98,94,105,106,111,111,78,78,78];
const tipDivMW2016=[109,101,100,96,96,99,100,105,108,108,110,111,112,116,121,122,126,126,125,125,125];
const tipDivSE2017=[126,121,121,121,121,121,121,121,121,121,121,121,121,121,121,121,121,121,121,121,121,128,130,130,132,134];
const tipColourMW2015={0:"Chicago",2:"Chicago",4:"Chicago",5:"Chicago",22:"Chicago",23:"Chicago",7:"Atlanta",10:"Atlanta",11:"Atlanta",8:"Carolinas",9:"Carolinas",19:"Illinois",20:"Illinois"};
const tipColourSE2017={3:"Purple",4:"Purple",5:"Purple",6:"Purple",13:"Purple",14:"Purple",17:"Kentucky"};
// horizontal branches [slot0,slot1,div,width]
const treeH=[[-3,23.7,0,3],[1.5,45.8,44.3,3],[-1.6,4.7,69.3,3],[-.1,27.1,76.4,2],[5,16,75.7,5],[21.9,23,76.4,4],[2.9,4.6,80,2],[4.1,5,83,3],[5.9,8.1,83.6,2],[7,11,87.1,2.5],[8,9,90.7,2],[12,16.7,84.3,2.5],[15.9,18.7,92.9,2],[15.8,17.2,93.6,2],[16.8,19.3,97.9,2.5],[18.9,20.2,107.1,2],[17.8,19,102.9,2],
[25.4,29.1,92.9,2.5],[24.5,26.8,100.7,2.5],[28,30.4,97.1,2.5],[30.4,34.5,102.1,3],[33.9,37.6,108.6,2.5],[35.9,39,119.3,2.5],[39,40.8,121.4,2.5],[39.9,43.8,124.3,2.5],[44.8,46.8,59.3,2.5],[45.7,47.6,117.1,2],[46.8,67.1,120.7,2],[62.3,67.1,120.7,3],[65.8,70,127.9,3],[68.7,70.6,130,3.5]];
// vertical branches [slot,div0,div1]
const treeV=[[-3,0,71.4],[23.7,0,44.3],[1.5,44.3,69.3],[-1.6,69.3,77.9],[4.7,69.3,76.4],[7.1,76.4,82.9],[5.9,83.6,87],[8.3,83,87.1],[8.5,87.1,90.7],[14.6,76.4,84.3],[13.4,84.3,91.4],[16.6,84.3,92.9],[15.4,93,96.4],[17.8,92.9,97.1],[18.7,97,102.9],[19.4,102.9,108.6],[16.9,97,102.9],[27.1,76.4,92.9],[25.4,92.9,100.7],[24.5,100.7,107.1],[29.1,92.9,97.1],[30.4,97.1,102.1],[31.9,102.1,107.9],[32.8,102.1,107.9],[36,102.1,107.9],[37.6,108.6,118.9],[40.8,121.4,123.6],[44.8,59.3,85],[45.8,44.3,59.3],[46.8,59.3,117.1],[45.7,117.1,125.7],[67.1,120.7,127.9],[59.5,120.7,124],[62.3,120.7,124]];
const treeNodes=[[10.4,0],[23.7,44.3],[1.5,69.3],[-1.5,77.9],[4.7,76.4],[7.1,82.9],[8.3,86.4],[8.5,90.7],[14.6,84.3],[13.4,91.4],[16.6,92.9],[15.4,96.4],[17.8,97.1],[18.7,102.9],[19.4,108.6],[27.1,92.9],[25.4,100.7],[24.5,107.1],[29.1,97.1],[30.4,102.1],[36,107.9],[37.6,118.9],[40.8,123.6],[45.8,59.3],[46.8,117.1],[67.1,127.9]];
const scaleBarValue=0.006;
// annotations: text lines and arrow from [slot,div] to [slot,div]
const annotations=[
{lines:["Korea","2015"],px:[150,793],size:20,from:[-3.5,94],to:[-1.7,81]},
{lines:["Korea","2014"],px:[117,841],size:20,from:[-6.2,78],to:[-3.4,71.5]},
{lines:["Korea","2016"],px:[515,825],size:17,from:[42.7,94],to:[44.6,85.5]}];

const regionColour=Object.fromEntries(regions.map(r=>[r[0],r[2]]));
regionColour.Purple="#620a7a";
const triColour={...regionColour,Atlanta:"#14107a",Carolinas:"#b04a14"};
const svg=d3.select("#c");
const x=d3.scaleLinear([0,30],[186,767]);
const y=d3.scaleLinear([1,99.2],[680,62]);

function segments(rows){const out=[];rows.forEach(r=>{for(let i=1;i<r.length;i+=2)out.push({z:r[0],a:r[i],b:r[i+1]});});return out;}
const dashLayer=svg.append("g").style("filter","blur(0.4px)");
function drawDashes(rows,cls,colour,w){
  dashLayer.append("g").attr("class",cls).attr("stroke",colour).attr("stroke-width",w)
   .selectAll("line").data(segments(rows)).join("line")
   .attr("x1",d=>x(d.a)).attr("x2",d=>x(d.b)).attr("y1",d=>y(d.z)).attr("y2",d=>y(d.z));
}
drawDashes(grayTopLeft,"g1","#c4c4c4",1.4);drawDashes(grayTopRight,"g2","#c4c4c4",1.4);drawDashes(grayMidLeft,"g3","#c4c4c4",1.4);drawDashes(grayMidRight,"g4","#c4c4c4",1.4);
drawDashes(blackTop,"b1","#1c1c1c",2);drawDashes(blackRight,"b2","#1c1c1c",2);drawDashes(blackMidLeft,"b3","#1c1c1c",2);drawDashes(blackClusters,"b4","#1c1c1c",2);

// top axis
const axis=d3.axisTop(x).tickValues(axisMonths).tickSize(17).tickFormat(m=>axisLabels[m]||"");
const ax=svg.append("g").attr("transform","translate(0,52)").call(axis);
ax.select(".domain").attr("stroke","#111").attr("stroke-width",3);
ax.selectAll(".tick line").attr("stroke","#111").attr("stroke-width",1.8);
ax.selectAll(".tick text").attr("font-size",20.5).attr("y",-25).attr("font-family","Liberation Sans").attr("fill","#111");

// left bar and labels
svg.append("line").attr("x1",172).attr("x2",172).attr("y1",y(99.2)).attr("y2",y(.7)).attr("stroke","#111").attr("stroke-width",3);
svg.append("text").attr("transform","translate(57,94) rotate(-18.5)").attr("font-size",21).text("High: 99223");
svg.append("text").attr("transform","translate(59,701) rotate(-18.5)").attr("font-size",21).text("Low: 01002");
svg.append("text").attr("transform","translate(127,400) rotate(-90)").attr("text-anchor","middle").attr("font-size",35).text("ZIP code");
svg.append("text").attr("x",9).attr("y",116).attr("font-size",54).attr("font-weight","bold").text("A");
svg.append("text").attr("x",9).attr("y",792).attr("font-size",54).attr("font-weight","bold").text("B");

// region boxes, bars, labels
regions.forEach(r=>{
  const b=r[4];
  svg.append("rect").attr("x",x(b[0])).attr("width",x(b[1])-x(b[0])).attr("y",y(b[3])).attr("height",y(b[2])-y(b[3]))
    .attr("fill","none").attr("stroke",r[2]).attr("stroke-width",3.8).attr("rx",1);
  svg.append("line").attr("x1",797).attr("x2",797).attr("y1",y(r[5][1])).attr("y2",y(r[5][0])).attr("stroke",r[2]).attr("stroke-width",4);
  svg.append("text").attr("x",807).attr("y",y(r[6])).attr("font-size",35.3).attr("font-weight","bold").style("fill",r[3]).text(r[1]);
});
// triangles
const tri=d3.symbol().type(d3.symbolTriangle).size(48)();
svg.append("g").selectAll("path").data(triangles).join("path").attr("d",tri)
  .attr("transform",d=>`translate(${x(d[0])},${y(d[1])})`)
  .attr("fill",d=>d[2]?triColour[d[2]]:"#fff").attr("stroke","#000").attr("stroke-width",2.4);

// Panel B
const tx=d3.scaleLinear([0,71],[200,770]);
const ty=d3.scaleLinear([0,100],[957,817]);
const tips=[];
tipDivMW2015.forEach((d,i)=>tips.push({s:i,d,c:tipColourMW2015[i]}));
tipDivMW2016.forEach((d,i)=>tips.push({s:24+i,d}));
tipDivSE2017.forEach((d,i)=>tips.push({s:46+i,d,c:tipColourSE2017[i]}));
const stemTop=134.3;
const tg=svg.append("g");
tg.selectAll("line.stem").data(tips).join("line").attr("class","stem")
 .attr("x1",d=>tx(d.s)).attr("x2",d=>tx(d.s)).attr("y1",ty(stemTop)).attr("y2",d=>ty(d.d))
 .attr("stroke",d=>d.c?regionColour[d.c]:"#cfcfcf").attr("stroke-width",d=>d.c?2.2:1.6).attr("stroke-dasharray",d=>d.c?"5,2.5":null);
tg.selectAll("line.h").data(treeH).join("line").attr("class","h")
 .attr("x1",d=>tx(d[0])).attr("x2",d=>tx(d[1])).attr("y1",d=>ty(d[2])).attr("y2",d=>ty(d[2]))
 .attr("stroke","#111").attr("stroke-width",d=>d[3]).attr("stroke-linecap","square");
tg.selectAll("line.v").data(treeV).join("line").attr("class","v")
 .attr("x1",d=>tx(d[0])).attr("x2",d=>tx(d[0])).attr("y1",d=>ty(d[1])).attr("y2",d=>ty(d[2]))
 .attr("stroke","#111").attr("stroke-width",2);
// root stem
tg.append("line").attr("x1",tx(10.4)).attr("x2",tx(10.4)).attr("y1",ty(0)).attr("y2",965).attr("stroke","#111").attr("stroke-width",2);
tg.selectAll("circle").data(treeNodes).join("circle").attr("cx",d=>tx(d[0])).attr("cy",d=>ty(d[1])).attr("r",4)
 .attr("fill","#fff").attr("stroke","#111").attr("stroke-width",1.4);
const smallTri=d3.symbol().type(d3.symbolTriangle).size(30)();
tg.selectAll("path.tip").data(tips).join("path").attr("class","tip").attr("d",smallTri)
 .attr("transform",d=>`translate(${tx(d.s)},${ty(stemTop)-3.8})`)
 .attr("fill",d=>d.c?(d.c==="Purple"?"#620a7a":triColour[d.c]):"#fff").attr("stroke","#222").attr("stroke-width",.8);
// clade headers
const cladeTextShift=[0,-4,0];
cladeNames.forEach((n,i)=>{
  const [a,b]=cladeSlots[i];
  svg.append("line").attr("x1",tx(a)).attr("x2",tx(b)).attr("y1",754).attr("y2",754).attr("stroke","#333").attr("stroke-width",1.4);
  svg.append("text").attr("x",(tx(a)+tx(b))/2+cladeTextShift[i]).attr("y",746).attr("text-anchor","middle").attr("font-size",22).text(n);
});
// annotations
annotations.forEach(a=>{
  const t=svg.append("text").attr("text-anchor","middle").attr("font-size",a.size);
  a.lines.forEach((l,i)=>t.append("tspan").attr("x",a.px[0]).attr("y",a.px[1]+i*(a.size+2)).text(l));
  const x0=tx(a.from[0]),y0=ty(a.from[1]),x1=tx(a.to[0]),y1=ty(a.to[1]);
  const ang=Math.atan2(y1-y0,x1-x0),h=13;
  const pts=[[x1-h*Math.cos(ang-.55),y1-h*Math.sin(ang-.55)],[x1,y1],[x1-h*Math.cos(ang+.55),y1-h*Math.sin(ang+.55)]];
  svg.append("line").attr("x1",x0).attr("y1",y0).attr("x2",x1).attr("y2",y1).attr("stroke","#111").attr("stroke-width",2.8);
  svg.append("path").attr("d",d3.line()(pts)).attr("fill","none").attr("stroke","#111").attr("stroke-width",2.8);
});
// scale bar
const barLen=ty(0)-ty(scaleBarValue*1e4);
svg.append("line").attr("x1",693).attr("x2",693).attr("y1",832).attr("y2",832+barLen).attr("stroke","#111").attr("stroke-width",2.8);
svg.append("text").attr("x",742).attr("y",871).attr("text-anchor","middle").attr("font-size",20).text("0.0060");
svg.append("text").attr("x",742).attr("y",895).attr("text-anchor","middle").attr("font-size",19.5).text("subs/site");
</script></body></html>
